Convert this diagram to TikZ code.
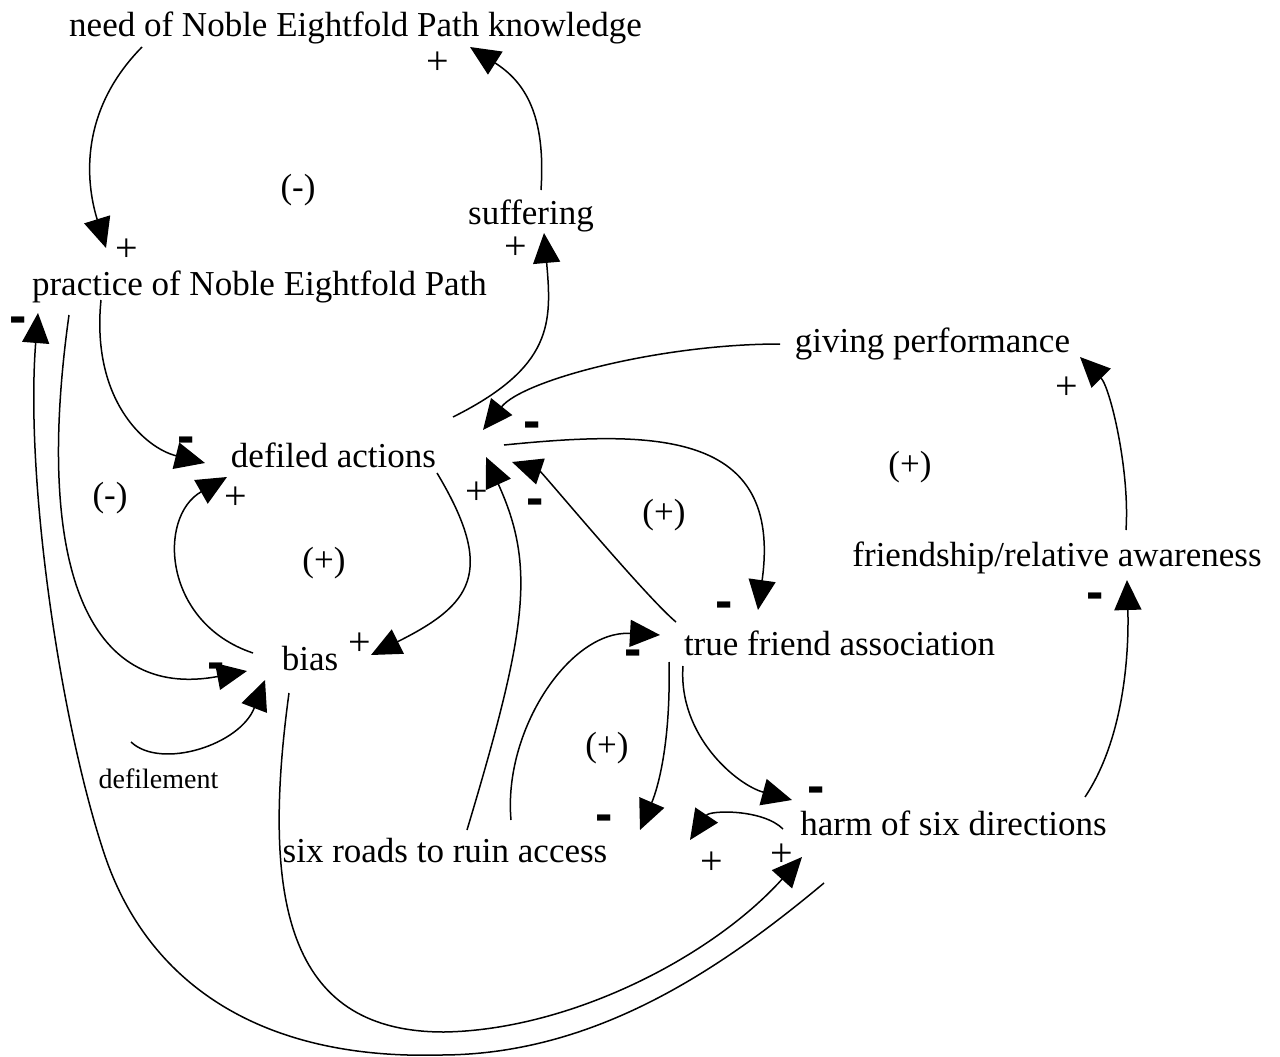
\documentclass[tikz,border=0pt]{standalone}
\usepackage{fontspec}
\setmainfont{Liberation Serif}
\newfontfamily\dashfont{Liberation Sans}
\usetikzlibrary{arrows.meta}
\tikzset{
  var/.style={font=\fontsize{35}{40}\selectfont, inner sep=0pt, anchor=base},
  link/.style={line width=1.5pt, -{Triangle[length=30pt,width=27pt]}},
  plus/.style={font=\fontsize{40}{40}\selectfont, inner sep=0pt},
  minus/.style={font=\dashfont\bfseries\fontsize{52}{52}\selectfont, inner sep=0pt, text height=0pt, text depth=0pt, yshift=-13.5pt},
  loopsign/.style={font=\fontsize{35}{40}\selectfont, inner sep=0pt}
}
\begin{document}
\begin{tikzpicture}[x=1pt,y=-1pt]
\useasboundingbox (0,0) rectangle (1280,1057);
\node[var] (need) at (355.5,37) {need of Noble Eightfold Path knowledge};
\node[var] (suffering) at (531,224) {suffering};
\node[var] (practice) at (259.5,295) {practice of Noble Eightfold Path};
\node[var] (giving) at (932.5,352) {giving performance};
\node[var] (defiled) at (333.5,467) {defiled actions};
\node[var] (friendship) at (1057,566) {friendship/relative awareness};
\node[var] (truefriend) at (839.5,655) {true friend association};
\node[var] (bias) at (310,670) {bias};
\node[var, font=\fontsize{28}{32}\selectfont] (defilement) at (158.5,788) {defilement};
\node[var] (sixroads) at (445,862) {six roads to ruin access};
\node[var] (harm) at (953.5,835) {harm of six directions};

\draw[link] ([shift={(-213.5,10)}]need.base) .. controls +(-62,63) and +(-21,-68) .. ([shift={(-153.5,-47)}]practice.base);
\draw[link] ([shift={(10,-34)}]suffering.base) .. controls +(5,-75) and +(55,35) .. ([shift={(114.5,10)}]need.base);
\draw[link] ([shift={(119.5,-50)}]defiled.base) .. controls +(100,-50) and +(8,90) .. ([shift={(13,9)}]suffering.base);
\draw[link] ([shift={(-158.5,5)}]practice.base) .. controls +(-10,100) and +(-60,-15) .. ([shift={(-128.5,-4)}]defiled.base);
\draw[link] ([shift={(-190.5,20)}]practice.base) .. controls +(-35,250) and +(-160,30) .. ([shift={(-63,1)}]bias.base);
\draw[link] ([shift={(-57,-17)}]bias.base) .. controls +(-90,-30) and +(-70,40) .. ([shift={(-106.5,10)}]defiled.base);
\draw[link] ([shift={(103.5,6)}]defiled.base) .. controls +(60,100) and +(100,-50) .. ([shift={(61,-15)}]bias.base);
\draw[link] ([shift={(-27.5,-46)}]defilement.base) .. controls +(30,28) and +(-25,65) .. ([shift={(-45,10)}]bias.base);
\draw[link] ([shift={(-152.5,-8)}]giving.base) .. controls +(-120,0) and +(40,-50) .. ([shift={(149.5,-37)}]defiled.base);
\draw[link] ([shift={(170.5,-22)}]defiled.base) .. controls +(150,-15) and +(25,-180) .. ([shift={(-81.5,-45)}]truefriend.base);
\draw[link] ([shift={(-163.5,-33)}]truefriend.base) .. controls +(-30,-25) and +(30,10) .. ([shift={(178.5,-5)}]defiled.base);
\draw[link] ([shift={(22,-32)}]sixroads.base) .. controls +(60,-200) and +(50,110) .. ([shift={(152.5,-10)}]defiled.base);
\draw[link] ([shift={(66,-42)}]sixroads.base) .. controls +(-8,-90) and +(-90,-5) .. ([shift={(-179.5,-20)}]truefriend.base);
\draw[link] ([shift={(-170.5,7)}]truefriend.base) .. controls +(2,90) and +(15,-35) .. ([shift={(195,-32)}]sixroads.base);
\draw[link] ([shift={(-156.5,11)}]truefriend.base) .. controls +(-5,70) and +(-55,-15) .. ([shift={(-161.5,-35)}]harm.base);
\draw[link] ([shift={(-170.5,-6)}]harm.base) .. controls +(-20,-20) and +(20,-30) .. ([shift={(245,-22)}]sixroads.base);
\draw[link] ([shift={(-21,23)}]bias.base) .. controls +(-30,220) and +(-150,0) .. ([shift={(134,362)}]bias.base)
  .. controls +(126,-2) and +(-90,100) .. ([shift={(-151.5,22)}]harm.base);
\draw[link] ([shift={(-129.5,48)}]harm.base) .. controls +(-110,92) and +(150,0) .. ([shift={(-513.5,220)}]harm.base)
  .. controls +(-180,5) and +(43,130) .. ([shift={(-155.5,558)}]practice.base)
  .. controls +(-44,-133) and +(-13,167) .. ([shift={(-221.5,18)}]practice.base);
\draw[link] ([shift={(131.5,-38)}]harm.base) .. controls +(40,-60) and +(2,70) .. ([shift={(70,14)}]friendship.base);
\draw[link] ([shift={(69,-36)}]friendship.base) .. controls +(4,-60) and +(30,30) .. ([shift={(147.5,5)}]giving.base);

\foreach \x/\y [count=\i] in {438/63,127/250,516/248,236/498,360/644,477/493,712/863,782/855,1067/388}
\node[plus] (plus\i) at (\x,\y) {+};
\foreach \x/\y [count=\i] in {18/320,186/440,216/666,532/425,535/502,724/605,633/653,604/818,816/790,1095/596}
\node[minus] (minus\i) at (\x,\y) {-};
\node[loopsign] (loopA) at (298,190) {(-)};
\node[loopsign] (loopB) at (110,498) {(-)};
\node[loopsign] (loopC) at (324,563) {(+)};
\node[loopsign] (loopD) at (664,515) {(+)};
\node[loopsign] (loopE) at (910,467) {(+)};
\node[loopsign] (loopF) at (607,748) {(+)};
\end{tikzpicture}
\end{document}
